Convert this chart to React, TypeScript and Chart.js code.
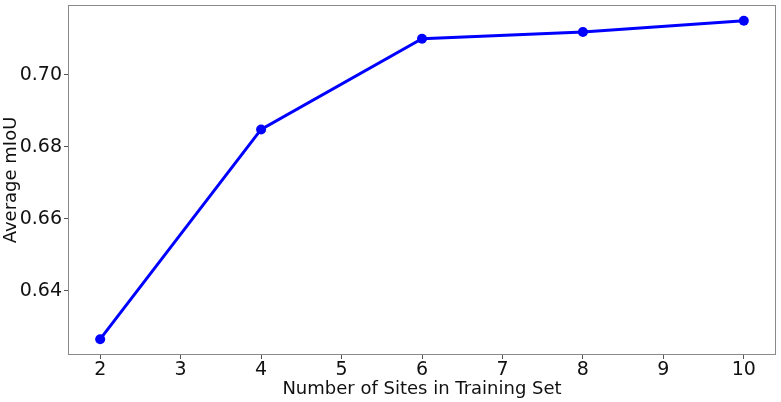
import React, { useEffect, useRef } from "react";
import { Chart, registerables } from "chart.js";

Chart.register(...registerables);

const sites = [2, 4, 6, 8, 10];
const miou = [0.6265, 0.6848, 0.71, 0.7119, 0.715];
const xTicks = [2, 3, 4, 5, 6, 7, 8, 9, 10];
const yTicks = [0.64, 0.66, 0.68, 0.7];

const FONT = "'DejaVu Sans', sans-serif";

const boxPlugin = {
  id: "box",
  afterDraw(chart: any) {
    const { ctx, chartArea } = chart;
    ctx.save();
    ctx.strokeStyle = "#8a8a8a";
    ctx.lineWidth = 1;
    ctx.strokeRect(
      Math.round(chartArea.left) + 0.5,
      Math.round(chartArea.top) + 0.5,
      Math.round(chartArea.right - chartArea.left) - 1,
      Math.round(chartArea.bottom - chartArea.top) - 1
    );
    ctx.restore();
  },
};

export default function App() {
  const ref = useRef<HTMLCanvasElement>(null);
  useEffect(() => {
    if (!ref.current) return;
    const chart = new Chart(ref.current, {
      type: "line",
      data: {
        datasets: [
          {
            data: sites.map((s, i) => ({ x: s, y: miou[i] })),
            borderColor: "#0000ff",
            backgroundColor: "#0000ff",
            borderWidth: 3,
            pointRadius: 5,
            pointBackgroundColor: "#0000ff",
            pointBorderWidth: 0,
            tension: 0,
          },
        ],
      },
      options: {
        responsive: false,
        animation: false,
        layout: { padding: { top: 4, right: 5, left: 0, bottom: 0 } },
        plugins: { legend: { display: false }, tooltip: { enabled: false } },
        scales: {
          x: {
            type: "linear",
            min: 1.6,
            max: 10.4,
            afterBuildTicks: (s: any) => {
              s.ticks = xTicks.map((v) => ({ value: v }));
            },
            afterFit: (s: any) => {
              s.height = 47;
              s.paddingLeft = 0;
              s.paddingRight = 0;
            },
            grid: { display: true, drawOnChartArea: false, drawTicks: true, tickLength: 4, color: "#555" },
            border: { display: false },
            ticks: { color: "#111", font: { family: FONT, size: 19 }, padding: 0, maxRotation: 0, autoSkip: false },
            title: {
              display: true,
              text: "Number of Sites in Training Set",
              color: "#111",
              font: { family: FONT, size: 18 },
              padding: { top: 0, bottom: 2 },
            },
          },
          y: {
            type: "linear",
            min: 0.6221,
            max: 0.7194,
            afterBuildTicks: (s: any) => {
              s.ticks = yTicks.map((v) => ({ value: v }));
            },
            afterFit: (s: any) => {
              s.width = 68;
              s.paddingTop = 0;
              s.paddingBottom = 0;
            },
            grid: { display: true, drawOnChartArea: false, drawTicks: true, tickLength: 4, color: "#555" },
            border: { display: false },
            ticks: {
              color: "#111",
              font: { family: FONT, size: 19 },
              padding: 2,
              callback: (v: any) => Number(v).toFixed(2),
            },
            title: {
              display: true,
              text: "Average mIoU",
              color: "#111",
              font: { family: FONT, size: 18 },
              padding: { top: 1, bottom: 0 },
            },
          },
        },
      },
      plugins: [boxPlugin],
    });
    return () => chart.destroy();
  }, []);
  return (
    <div style={{ position: "absolute", left: 0, top: 0, width: 781, height: 402, background: "#fff" }}>
      <canvas ref={ref} width={781} height={402} style={{ width: 781, height: 402 }} />
    </div>
  );
}
